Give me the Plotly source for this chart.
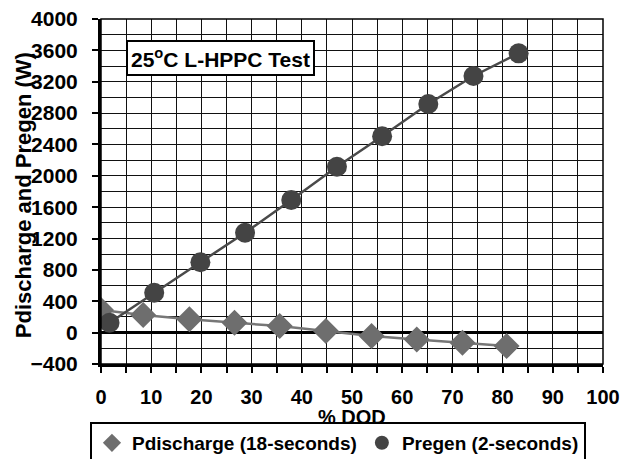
import plotly.graph_objects as go

dod_dis = [0, 8.4, 17.6, 26.6, 35.6, 44.8, 53.9, 62.9, 72.0, 80.8]
p_dis = [288, 224, 170, 126, 84, 20, -43, -86, -129, -171]
dod_reg = [1.7, 10.6, 19.8, 28.7, 37.9, 47.0, 56.0, 65.2, 74.2, 83.2]
p_reg = [126, 509, 897, 1274, 1691, 2116, 2504, 2916, 3273, 3562]

FONT = "Liberation Sans, Arial, sans-serif"
fig = go.Figure()
fig.add_trace(go.Scatter(x=dod_dis, y=p_dis, mode="lines+markers", showlegend=False,
                         line=dict(color="#777777", width=2.5),
                         marker=dict(symbol="diamond", size=20, color="#6e6e6e")))
fig.add_trace(go.Scatter(x=dod_reg, y=p_reg, mode="lines+markers", showlegend=False,
                         line=dict(color="#4a4a4a", width=2.5),
                         marker=dict(symbol="circle", size=20, color="#444444")))
fig.add_trace(go.Scatter(x=[None], y=[None], mode="markers", name="Pdischarge (18-seconds)",
                         marker=dict(symbol="diamond", size=14, color="#6e6e6e")))
fig.add_trace(go.Scatter(x=[None], y=[None], mode="markers", name="Pregen (2-seconds)",
                         marker=dict(symbol="circle", size=14, color="#444444")))

fig.update_layout(
    width=636, height=459,
    margin=dict(l=93, r=41, t=11, b=103, autoexpand=False),
    paper_bgcolor="white", plot_bgcolor="white",
    font=dict(family=FONT, size=20, color="black", weight="bold"),
    legend=dict(orientation="h", x=-0.022, xanchor="left", y=-0.168, yanchor="top",
                bordercolor="black", borderwidth=2, font=dict(size=19, weight="bold"),
                itemwidth=30, tracegroupgap=0),
    showlegend=True,
)
fig.update_xaxes(range=[0, 100], dtick=10, tick0=0, showgrid=True, gridcolor="#111111", gridwidth=1,
                 minor=dict(dtick=5, showgrid=True, gridcolor="#111111", gridwidth=1,
                            ticks="outside", ticklen=6, tickwidth=2, tickcolor="black"),
                 ticks="outside", ticklen=6, tickwidth=2, tickcolor="black",
                 showline=True, linecolor="black", linewidth=3, zeroline=False,
                 automargin=False, ticklabelstandoff=7, ticklabeloverflow="allow",
                 tickfont=dict(size=20, weight="bold"))
fig.update_yaxes(range=[-400, 4000], dtick=400, tick0=0, showgrid=True, gridcolor="#111111", gridwidth=1,
                 minor=dict(dtick=200, showgrid=True, gridcolor="#111111", gridwidth=1),
                 ticks="outside", ticklen=6, tickwidth=2, tickcolor="black",
                 showline=True, linecolor="black", linewidth=3,
                 zeroline=True, zerolinecolor="black", zerolinewidth=3,
                 automargin=False, ticklabelstandoff=10, ticklabeloverflow="allow",
                 tickfont=dict(size=21, weight="bold"))
fig.add_shape(type="rect", xref="paper", yref="paper", x0=0, y0=0, x1=1, y1=1,
              line=dict(color="black", width=1.5), layer="above")
fig.add_annotation(xref="paper", yref="paper", x=0.238, y=0.886, xanchor="center", yanchor="middle",
                   text="25<sup>o</sup>C L-HPPC Test", showarrow=False,
                   font=dict(size=21, weight="bold"), bgcolor="white",
                   bordercolor="black", borderwidth=2, borderpad=3)
fig.add_annotation(xref="paper", yref="paper", x=0.5, y=-0.153, xanchor="center", yanchor="middle",
                   text="% DOD", showarrow=False, font=dict(size=20, weight="bold"))
fig.add_annotation(xref="paper", yref="paper", x=-0.153, y=0.49, xanchor="center", yanchor="middle",
                   text="Pdischarge and Pregen (W)", textangle=-90, showarrow=False,
                   font=dict(size=22, weight="bold"))
fig.write_html("out.html")
